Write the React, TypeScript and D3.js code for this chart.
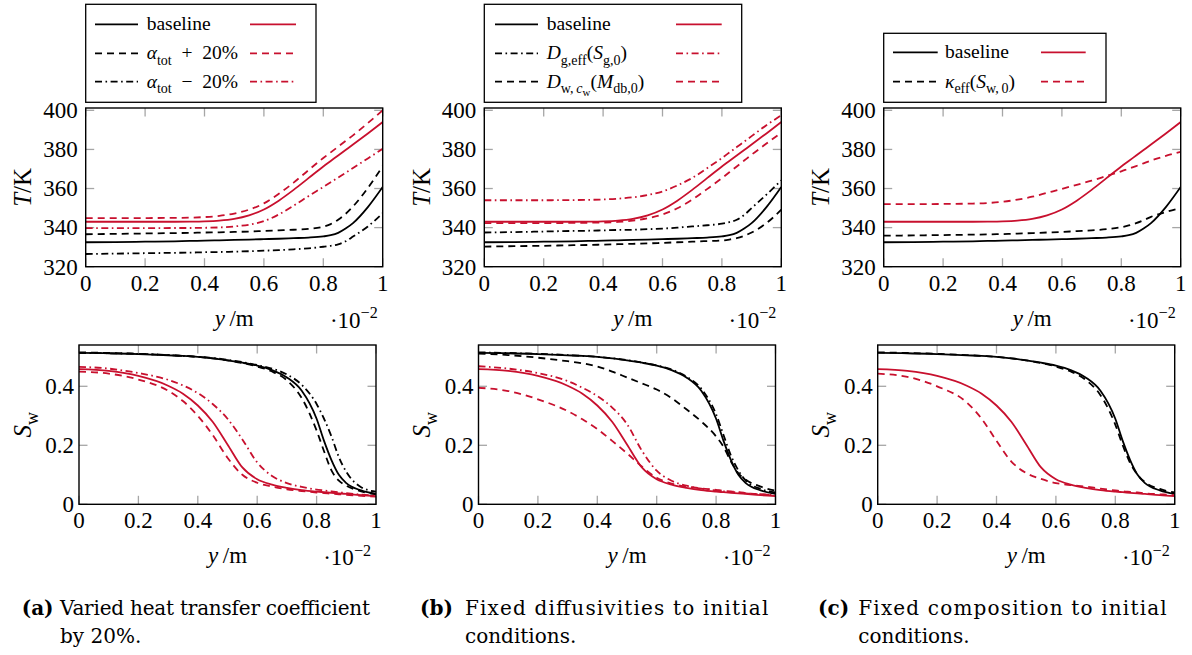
import React from 'react';
import * as d3 from 'd3';

// Position y (×10⁻² m) at which every profile is sampled
const yPos = [0, 0.1, 0.2, 0.3, 0.35, 0.4, 0.45, 0.5, 0.55, 0.6, 0.65, 0.7, 0.75, 0.8, 0.825, 0.85, 0.875, 0.9, 0.95, 1];

// Temperature profiles T / K
const tBlackBase = [332.5, 332.6, 332.8, 333, 333.2, 333.3, 333.5, 333.7, 333.9, 334.1, 334.3, 334.6, 334.9, 335.5, 336.1, 337.3, 339.5, 342.3, 350.5, 360.8];
const tRedBase = [343, 343, 343, 343, 343.05, 343.2, 343.6, 344.5, 346.3, 349.3, 353.8, 359.3, 365.3, 371.3, 374.1, 376.9, 379.7, 382.5, 388.2, 394];
const tBlackAlphaPlus = [336.6, 336.8, 337, 337.2, 337.3, 337.5, 337.6, 337.8, 338, 338.3, 338.6, 338.9, 339.3, 340.5, 341.8, 344, 347, 350.8, 360.3, 371.4];
const tRedAlphaPlus = [344.9, 344.9, 344.9, 345, 345.1, 345.4, 346, 347.2, 349.2, 352.4, 357.3, 363, 369.4, 375.6, 378.5, 381.4, 384.3, 387.2, 393.5, 400];
const tBlackAlphaMinus = [326.5, 326.7, 326.9, 327.1, 327.2, 327.4, 327.5, 327.7, 327.9, 328.2, 328.5, 328.9, 329.4, 330.2, 330.7, 331.4, 333, 335.4, 340.6, 347.4];
const tRedAlphaMinus = [339.7, 339.7, 339.7, 339.8, 339.8, 339.9, 340.1, 340.6, 341.5, 343.3, 346.7, 351.2, 356.1, 360.8, 363.2, 365.6, 368, 370.5, 375.4, 380.3];
const tBlackDg = [337.5, 337.7, 338, 338.3, 338.4, 338.6, 338.8, 338.9, 339.2, 339.5, 340, 340.6, 341.2, 342, 342.8, 344, 346.5, 350, 356.9, 364.2];
const tRedDg = [354, 354, 354, 354.1, 354.2, 354.4, 354.8, 355.5, 356.7, 358.5, 361.6, 365.4, 370.4, 375.6, 378.4, 381.2, 384, 386.8, 392.4, 397.5];
const tBlackDw = [330.3, 330.5, 330.7, 331, 331.1, 331.3, 331.5, 331.7, 331.9, 332.2, 332.5, 332.8, 333.1, 333.4, 333.9, 334.6, 335.8, 337.5, 342.3, 349.2];
const tRedDw = [342.3, 342.3, 342.3, 342.4, 342.5, 342.6, 342.9, 343.6, 344.8, 346.7, 349.9, 354.3, 359.7, 365.3, 368.3, 371.3, 374.3, 377.3, 383, 388.6];
const tBlackKappa = [335.9, 336, 336.2, 336.4, 336.5, 336.7, 336.9, 337.2, 337.5, 337.8, 338.2, 338.6, 339.2, 340.2, 341.1, 342.3, 343.8, 345.5, 348, 350];
const tRedKappa = [352, 352, 352.1, 352.3, 352.6, 353.2, 354.3, 355.8, 357.8, 359.8, 361.9, 364, 366.4, 368.8, 370.2, 371.5, 372.9, 374.3, 376.7, 378.8];

// Water saturation profiles S_w
const sBlackBase = [0.513, 0.512, 0.509, 0.505, 0.503, 0.5, 0.495, 0.488, 0.48, 0.47, 0.455, 0.43, 0.385, 0.29, 0.215, 0.15, 0.1, 0.072, 0.047, 0.035];
const sRedBase = [0.458, 0.452, 0.435, 0.402, 0.375, 0.335, 0.28, 0.203, 0.125, 0.085, 0.067, 0.056, 0.048, 0.043, 0.041, 0.039, 0.037, 0.035, 0.031, 0.028];
const sBlackAlphaPlus = [0.515, 0.513, 0.51, 0.506, 0.503, 0.5, 0.495, 0.488, 0.479, 0.467, 0.45, 0.42, 0.36, 0.25, 0.18, 0.115, 0.08, 0.063, 0.044, 0.034];
const sRedAlphaPlus = [0.45, 0.443, 0.423, 0.385, 0.35, 0.3, 0.235, 0.158, 0.1, 0.073, 0.06, 0.051, 0.045, 0.04, 0.038, 0.036, 0.034, 0.032, 0.029, 0.026];
const sBlackAlphaMinus = [0.513, 0.512, 0.51, 0.506, 0.503, 0.5, 0.496, 0.49, 0.482, 0.472, 0.46, 0.44, 0.405, 0.34, 0.29, 0.23, 0.16, 0.11, 0.058, 0.043];
const sRedAlphaMinus = [0.466, 0.46, 0.445, 0.422, 0.403, 0.377, 0.34, 0.29, 0.22, 0.142, 0.096, 0.072, 0.059, 0.05, 0.047, 0.044, 0.041, 0.038, 0.033, 0.029];
const sBlackDg = [0.515, 0.513, 0.51, 0.506, 0.503, 0.5, 0.495, 0.489, 0.481, 0.471, 0.457, 0.433, 0.392, 0.305, 0.235, 0.165, 0.115, 0.08, 0.052, 0.04];
const sRedDg = [0.468, 0.46, 0.445, 0.418, 0.395, 0.367, 0.328, 0.272, 0.182, 0.114, 0.08, 0.063, 0.053, 0.047, 0.044, 0.042, 0.04, 0.037, 0.034, 0.031];
const sBlackDw = [0.511, 0.506, 0.497, 0.485, 0.478, 0.467, 0.45, 0.43, 0.41, 0.389, 0.36, 0.322, 0.281, 0.23, 0.195, 0.145, 0.105, 0.083, 0.06, 0.046];
const sRedDw = [0.395, 0.384, 0.356, 0.316, 0.288, 0.255, 0.215, 0.173, 0.128, 0.09, 0.07, 0.06, 0.054, 0.049, 0.046, 0.044, 0.041, 0.038, 0.034, 0.031];
const sBlackKappa = [0.515, 0.513, 0.51, 0.506, 0.503, 0.5, 0.495, 0.488, 0.479, 0.467, 0.45, 0.422, 0.37, 0.27, 0.2, 0.14, 0.1, 0.075, 0.052, 0.04];
const sRedKappa = [0.443, 0.432, 0.4, 0.345, 0.29, 0.215, 0.145, 0.106, 0.086, 0.072, 0.065, 0.06, 0.053, 0.047, 0.044, 0.042, 0.04, 0.037, 0.034, 0.031];

// Axis ticks
const tTicks = [320, 340, 360, 380, 400];
const sTicks = [0, 0.2, 0.4];
const yTicks = [0, 0.2, 0.4, 0.6, 0.8, 1];

// Rich-text pieces: i = italic, lvl = subscript depth (negative = superscript)
type Piece = { t: string; i?: boolean; lvl?: number };

const legendA: Piece[][] = [
  [{ t: 'baseline' }],
  [{ t: 'α', i: true }, { t: 'tot', lvl: 1 }, { t: '\u2002+\u200220%' }],
  [{ t: 'α', i: true }, { t: 'tot', lvl: 1 }, { t: '\u2002−\u200220%' }],
];
const legendB: Piece[][] = [
  [{ t: 'baseline' }],
  [{ t: 'D', i: true }, { t: 'g,eff', lvl: 1 }, { t: '(' }, { t: 'S', i: true }, { t: 'g,0', lvl: 1 }, { t: ')' }],
  [{ t: 'D', i: true }, { t: 'w,\u2009', lvl: 1 }, { t: 'c', i: true, lvl: 1 }, { t: 'w', lvl: 2 }, { t: '(' }, { t: 'M', i: true }, { t: 'db,0', lvl: 1 }, { t: ')' }],
];
const legendC: Piece[][] = [
  [{ t: 'baseline' }],
  [{ t: 'κ', i: true }, { t: 'eff', lvl: 1 }, { t: '(' }, { t: 'S', i: true }, { t: 'w,\u20090', lvl: 1 }, { t: ')' }],
];

const captionTags = ['(a)', '(b)', '(c)'];
const captionLine1 = ['Varied heat transfer coefficient', 'Fixed diffusivities to initial', 'Fixed composition to initial'];
const captionLine2 = ['by 20%.', 'conditions.', 'conditions.'];

const RED = '#c8102e';
const DASH: Record<string, string | undefined> = {
  solid: undefined,
  dashed: '7 5',
  dashdot: '7 3.5 1.6 3.5',
};

type Series = { v: number[]; color: string; style: string };

const tSeries: Series[][] = [
  [
    { v: tBlackBase, color: '#000', style: 'solid' },
    { v: tBlackAlphaPlus, color: '#000', style: 'dashed' },
    { v: tBlackAlphaMinus, color: '#000', style: 'dashdot' },
    { v: tRedBase, color: RED, style: 'solid' },
    { v: tRedAlphaPlus, color: RED, style: 'dashed' },
    { v: tRedAlphaMinus, color: RED, style: 'dashdot' },
  ],
  [
    { v: tBlackBase, color: '#000', style: 'solid' },
    { v: tBlackDg, color: '#000', style: 'dashdot' },
    { v: tBlackDw, color: '#000', style: 'dashed' },
    { v: tRedBase, color: RED, style: 'solid' },
    { v: tRedDg, color: RED, style: 'dashdot' },
    { v: tRedDw, color: RED, style: 'dashed' },
  ],
  [
    { v: tBlackBase, color: '#000', style: 'solid' },
    { v: tBlackKappa, color: '#000', style: 'dashed' },
    { v: tRedBase, color: RED, style: 'solid' },
    { v: tRedKappa, color: RED, style: 'dashed' },
  ],
];

const sSeries: Series[][] = [
  [
    { v: sBlackBase, color: '#000', style: 'solid' },
    { v: sBlackAlphaPlus, color: '#000', style: 'dashed' },
    { v: sBlackAlphaMinus, color: '#000', style: 'dashdot' },
    { v: sRedBase, color: RED, style: 'solid' },
    { v: sRedAlphaPlus, color: RED, style: 'dashed' },
    { v: sRedAlphaMinus, color: RED, style: 'dashdot' },
  ],
  [
    { v: sBlackBase, color: '#000', style: 'solid' },
    { v: sBlackDg, color: '#000', style: 'dashdot' },
    { v: sBlackDw, color: '#000', style: 'dashed' },
    { v: sRedBase, color: RED, style: 'solid' },
    { v: sRedDg, color: RED, style: 'dashdot' },
    { v: sRedDw, color: RED, style: 'dashed' },
  ],
  [
    { v: sBlackBase, color: '#000', style: 'solid' },
    { v: sBlackKappa, color: '#000', style: 'dashed' },
    { v: sRedBase, color: RED, style: 'solid' },
    { v: sRedKappa, color: RED, style: 'dashed' },
  ],
];

const legendStyles = [
  ['solid', 'dashed', 'dashdot'],
  ['solid', 'dashdot', 'dashed'],
  ['solid', 'dashed'],
];
const legends = [legendA, legendB, legendC];

// Layout of the three columns
const PLOT_W = 297;
const T_TOP = 108;
const T_BOTTOM = 266.7;
const S_TOP = 345;
const S_BOTTOM = 504.3;
const layout = [
  { tLeft: 85.7, sLeft: 79, box: [85.7, 4.3, 316, 102.3], sample: [95, 138, 250, 296], textX: 146.7, rows: [24.3, 53.3, 81.7], yLabX: 22.5, tagX: 21.7, capX: 60, capLen: 310 },
  { tLeft: 484.3, sLeft: 478.5, box: [484.3, 4.3, 741.7, 102.3], sample: [495, 538, 676, 721.7], textX: 546.7, rows: [24.3, 53.3, 81.7], yLabX: 421.7, tagX: 420, capX: 465, capLen: 303.3 },
  { tLeft: 883.7, sLeft: 877.7, box: [883.7, 33.3, 1106, 102.3], sample: [893, 937.7, 1041, 1085.7], textX: 945, rows: [52.3, 81.7], yLabX: 821, tagX: 818, capX: 858.3, capLen: 308.4 },
];

const MATH_FONT = "'Liberation Serif', 'DejaVu Serif', serif";
const CAP_FONT = "'DejaVu Serif', serif";
const TICK_SIZE = 23;

function Rich({ pieces, x, y, size, anchor = 'start', transform }: { pieces: Piece[]; x: number; y: number; size: number; anchor?: string; transform?: string }) {
  const sizes: Record<string, number> = { '0': size, '1': size * 0.72, '2': size * 0.56, '-1': size * 0.7 };
  const shifts: Record<string, number> = { '0': 0, '1': size * 0.28, '2': size * 0.45, '-1': -size * 0.42 };
  let cur = 0;
  return (
    <text x={x} y={y} fontFamily={MATH_FONT} fontSize={size} textAnchor={anchor} transform={transform} style={{ whiteSpace: 'pre' }} fill="#000">
      {pieces.map((p, k) => {
        const lvl = String(p.lvl ?? 0);
        const dy = shifts[lvl] - cur;
        cur = shifts[lvl];
        return (
          <tspan key={k} dy={dy} fontSize={sizes[lvl]} fontStyle={p.i ? 'italic' : 'normal'}>
            {p.t}
          </tspan>
        );
      })}
    </text>
  );
}

function Plot({ left, top, bottom, yDomain, yTickVals, series, fmt, labelGap, clipId }: {
  left: number; top: number; bottom: number; yDomain: [number, number]; yTickVals: number[]; series: Series[]; fmt: (v: number) => string; labelGap: number; clipId: string;
}) {
  const x = d3.scaleLinear().domain([0, 1]).range([left, left + PLOT_W]);
  const y = d3.scaleLinear().domain(yDomain).range([bottom, top]);
  const line = d3
    .line<number>()
    .x((_, i) => x(yPos[i]))
    .y((d) => y(d))
    .curve(d3.curveMonotoneX);
  const TL = 8.5;
  const tickColor = '#a6a6a6';
  return (
    <g>
      <defs>
        <clipPath id={clipId}>
          <rect x={left} y={top} width={PLOT_W} height={bottom - top} />
        </clipPath>
      </defs>
      {yTicks.map((v) => (
        <g key={'x' + v} stroke={tickColor} strokeWidth={1.3}>
          <line x1={x(v)} x2={x(v)} y1={bottom} y2={bottom - TL} />
          <line x1={x(v)} x2={x(v)} y1={top} y2={top + TL} />
        </g>
      ))}
      {yTickVals.map((v) => (
        <g key={'y' + v} stroke={tickColor} strokeWidth={1.3}>
          <line x1={left} x2={left + TL} y1={y(v)} y2={y(v)} />
          <line x1={left + PLOT_W} x2={left + PLOT_W - TL} y1={y(v)} y2={y(v)} />
        </g>
      ))}
      <g clipPath={`url(#${clipId})`}>
        {series.map((s, k) => (
          <path key={k} d={line(s.v) ?? ''} fill="none" stroke={s.color} strokeWidth={1.8} strokeDasharray={DASH[s.style]} />
        ))}
      </g>
      <rect x={left} y={top} width={PLOT_W} height={bottom - top} fill="none" stroke="#000" strokeWidth={1.4} />
      {yTicks.map((v) => (
        <text key={'xl' + v} x={x(v)} y={bottom + 24} textAnchor="middle" fontFamily={MATH_FONT} fontSize={TICK_SIZE}>
          {d3.format('~g')(v)}
        </text>
      ))}
      {yTickVals.map((v) => (
        <text key={'yl' + v} x={left - labelGap} y={y(v)} dy="0.34em" textAnchor="end" fontFamily={MATH_FONT} fontSize={TICK_SIZE}>
          {fmt(v)}
        </text>
      ))}
      <Rich pieces={[{ t: 'y', i: true }, { t: '\u2009/m' }]} x={left + PLOT_W / 2} y={bottom + 59} size={TICK_SIZE} anchor="middle" />
      <Rich pieces={[{ t: '·10' }, { t: '−2', lvl: -1 }]} x={left + PLOT_W - 5} y={bottom + 61} size={TICK_SIZE} anchor="end" />
    </g>
  );
}

export default function App() {
  return (
    <svg width={1192} height={655} style={{ position: 'absolute', left: 0, top: 0, background: '#fff' }}>
      {layout.map((L, p) => (
        <g key={p}>
          {/* legend */}
          <rect x={L.box[0]} y={L.box[1]} width={L.box[2] - L.box[0]} height={L.box[3] - L.box[1]} fill="#fff" stroke="#000" strokeWidth={1.3} />
          {legends[p].map((row, r) => (
            <g key={r}>
              <line x1={L.sample[0]} x2={L.sample[1]} y1={L.rows[r]} y2={L.rows[r]} stroke="#000" strokeWidth={1.8} strokeDasharray={DASH[legendStyles[p][r]]} />
              <line x1={L.sample[2]} x2={L.sample[3]} y1={L.rows[r]} y2={L.rows[r]} stroke={RED} strokeWidth={1.8} strokeDasharray={DASH[legendStyles[p][r]]} />
              <Rich pieces={row} x={L.textX} y={L.rows[r] + 6} size={19.5} />
            </g>
          ))}
          {/* temperature */}
          <Plot left={L.tLeft} top={T_TOP} bottom={T_BOTTOM} yDomain={[320, 401.2]} yTickVals={tTicks} series={tSeries[p]} fmt={(v) => String(v)} labelGap={8} clipId={`ct${p}`} />
          <Rich pieces={[{ t: 'T', i: true }, { t: '/K' }]} x={0} y={0} size={25} anchor="middle" transform={`translate(${L.yLabX + 8},${(T_TOP + T_BOTTOM) / 2}) rotate(-90)`} />
          {/* saturation */}
          <Plot left={L.sLeft} top={S_TOP} bottom={S_BOTTOM} yDomain={[0, 0.54]} yTickVals={sTicks} series={sSeries[p]} fmt={(v) => d3.format('~g')(v)} labelGap={5} clipId={`cs${p}`} />
          <Rich pieces={[{ t: 'S', i: true }, { t: 'w', lvl: 1 }]} x={0} y={0} size={25} anchor="middle" transform={`translate(${L.yLabX + 8},${(S_TOP + S_BOTTOM) / 2}) rotate(-90)`} />
          {/* caption */}
          <text x={L.tagX} y={615} fontFamily={CAP_FONT} fontWeight="bold" fontSize={20}>{captionTags[p]}</text>
          <text x={L.capX} y={615} fontFamily={CAP_FONT} fontSize={20} textLength={L.capLen} lengthAdjust="spacing">{captionLine1[p]}</text>
          <text x={L.capX} y={643} fontFamily={CAP_FONT} fontSize={20}>{captionLine2[p]}</text>
        </g>
      ))}
    </svg>
  );
}
